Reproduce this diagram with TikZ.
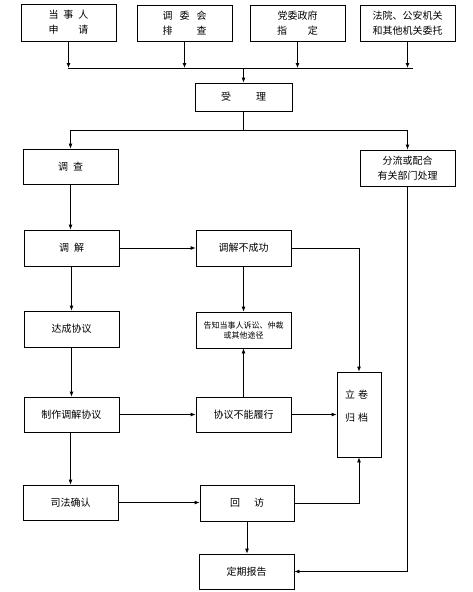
\documentclass[tikz,border=0pt]{standalone}
\usepackage{fontspec}
\setmainfont{Noto Sans CJK SC}
\usetikzlibrary{arrows.meta}
\begin{document}
\begin{tikzpicture}[x=1pt,y=-1pt,
  box/.style={draw, line width=0.8pt, minimum width=95pt, minimum height=36pt, inner sep=0pt, align=center, font=\fontsize{10}{15}\selectfont},
  small/.style={font=\fontsize{8}{10}\selectfont},
  arr/.style={line width=0.8pt, -{Latex[length=5pt,width=4pt]}},
  ln/.style={line width=0.8pt}]
\useasboundingbox (0,0) rectangle (472,592);
% top row
\node[box, minimum height=37pt] (b1) at (68.5,22.5) {\makebox[40pt][s]{当\hfill 事\hfill 人}\\\makebox[40pt][s]{申\hfill 请}};
\node[box] (b2) at (184.5,23) {\makebox[44pt][s]{调\hfill 委\hfill 会}\\\makebox[44pt][s]{排\hfill 查}};
\node[box] (b3) at (297.5,23) {党委政府\\\makebox[41pt][s]{指\hfill 定}};
\node[box] (b4) at (407.5,23) {法院、公安机关\\和其他机关委托};
\coordinate (busL) at (68,68);
\coordinate (busR) at (413,68);
\draw[ln] (busL) -- (busR);
\foreach \b in {b1,b2,b3,b4} \draw[arr] (\b.south) -- (\b.south |- busL);
% accept
\node[box, minimum width=97pt, minimum height=28pt] (sl) at (243.5,97) {\makebox[45pt][s]{受\hfill 理}};
\draw[arr] (sl.north |- busL) -- (sl.north);
% second row
\node[box, minimum height=35pt] (dc) at (70.5,166.5) {调\hspace{5pt}查};
\node[box] (fl) at (407.5,168) {分流或配合\\有关部门处理};
\coordinate (spY) at (0,130);
\draw[ln] (sl.south) -- (sl.south |- spY);
\draw[ln] (dc.north |- spY) -- (fl.north |- spY);
\draw[arr] (dc.north |- spY) -- (dc.north);
\draw[arr] (fl.north |- spY) -- (fl.north);
% mediation
\node[box] (tj) at (71.5,248) {调\hspace{5pt}解};
\node[box] (bcg) at (243.5,248) {调解不成功};
\node[box] (dcx) at (71.5,329) {达成协议};
\node[box, small] (gz) at (243.5,330) {告知当事人诉讼、仲裁\\或其他途径};
\node[draw, line width=0.8pt, minimum width=44pt, minimum height=85pt, inner sep=0pt] (lj) at (359,414.5) {};
\node[font=\fontsize{10}{10}\selectfont, align=left] (ljt) at (356.5,406.5) {立\hspace{3pt}卷\\[13pt]归\hspace{3pt}档};
\node[box, minimum height=35pt] (zz) at (71.5,414.5) {制作调解协议};
\node[box, minimum height=35pt] (bnl) at (243.5,414.5) {协议不能履行};
\node[box, minimum height=35pt] (sf) at (70.5,502.5) {司法确认};
\node[box, minimum width=94pt] (hf) at (247,503) {回\hspace{14pt}访};
\node[box, minimum height=35pt] (dq) at (246.5,571.5) {定期报告};
% connectors
\draw[arr] (dc.south) -- (dc.south |- tj.north);
\draw[arr] (tj.east) -- (bcg.west);
\draw[arr] (tj.south) -- (tj.south |- dcx.north);
\draw[arr] (bcg.south) -- (gz.north);
\draw[arr] (bcg.east) -- (lj.north |- bcg.east) -- (lj.north);
\draw[arr] (dcx.south) -- (dcx.south |- zz.north);
\draw[arr] (zz.east) -- (bnl.west);
\draw[arr] (bnl.north) -- (gz.south);
\draw[arr] (bnl.east) -- (lj.west |- bnl.east);
\draw[arr] (zz.south) -- (zz.south -| sf.north) -- (sf.north);
\draw[arr] (sf.east) -- (hf.west |- sf.east);
\draw[arr] (hf.east) -- (lj.south |- hf.east) -- (lj.south);
\draw[arr] (hf.south) -- (hf.south |- dq.north);
\draw[arr] (fl.south) -- (fl.south |- dq.east) -- (dq.east);
\end{tikzpicture}
\end{document}
